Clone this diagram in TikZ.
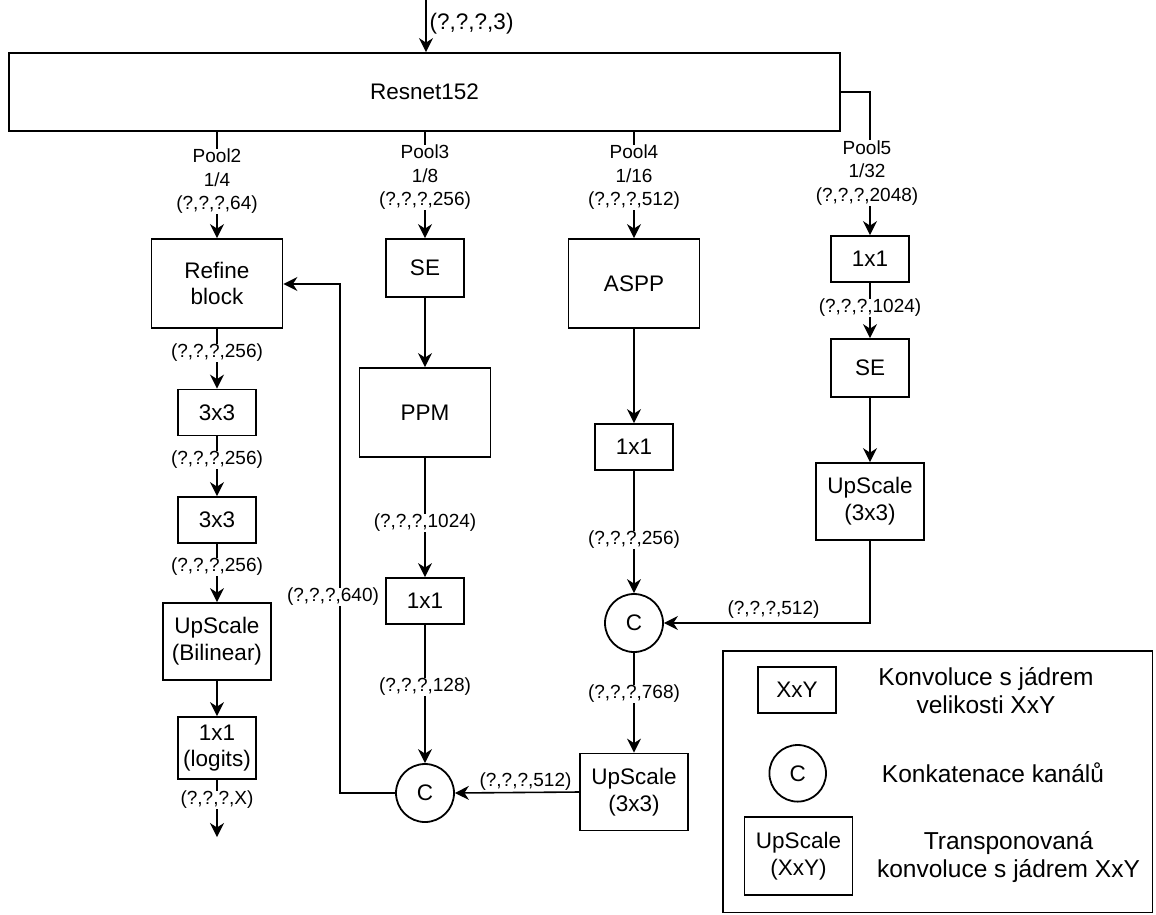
\documentclass[tikz,border=0pt]{standalone}
\usepackage{fontspec}
\setmainfont{Liberation Sans}
\usetikzlibrary{arrows.meta}

\begin{document}
\begin{tikzpicture}[x=1pt,y=-1pt,
  box/.style={draw, line width=1.8pt, fill=white, align=center, inner sep=0pt,
    font=\fontsize{22.5}{26.7}\selectfont},
  small/.style={box, minimum width=78pt, minimum height=46pt},
  sebox/.style={box, minimum width=78pt, minimum height=58pt},
  big/.style={box, minimum width=131pt, minimum height=89pt},
  upbox/.style={box, minimum width=108pt, minimum height=77pt},
  cat/.style={draw, circle, line width=1.8pt, fill=white, inner sep=0pt,
    minimum size=58pt, font=\fontsize{22.5}{26.7}\selectfont},
  lbl/.style={fill=white, inner sep=0.5pt, align=center,
    font=\fontsize{19}{23.5}\selectfont},
  legtext/.style={align=center, inner sep=0pt, font=\fontsize{24.5}{28}\selectfont},
  link/.style={line width=1.6pt},
  flow/.style={link, -{Stealth[length=14pt, width=14pt, inset=4.5pt]}}
]
\useasboundingbox (0,0) rectangle (1156,914);

% backbone
\node[box, minimum width=831pt, minimum height=78pt] (res) at (424.5,92) {Resnet152};
\coordinate (in) at (426,0);

% Pool2 branch
\node[big] (refine) at (217,283.5) {Refine\\block};
\node[small] (c3a) at (217,412.5) {3x3};
\node[small] (c3b) at (217,520) {3x3};
\node[upbox] (upbil) at (217,641.5) {UpScale\\(Bilinear)};
\node[box, minimum width=78pt, minimum height=62pt] (logits) at (217,748) {1x1\\(logits)};
\coordinate (out) at (217,837);

% Pool3 branch
\node[sebox] (se3) at (425,268) {SE};
\node[big] (ppm) at (425,412.5) {PPM};
\node[small] (c1m) at (425,601) {1x1};
\node[cat] (catL) at (425,793) {C};

% Pool4 branch
\node[big] (aspp) at (634,283.5) {ASPP};
\node[small] (c1r) at (634,447) {1x1};
\node[cat] (catR) at (634,623) {C};
\node[upbox] (up3m) at (634,792) {UpScale\\(3x3)};

% Pool5 branch
\node[small] (c1p5) at (870,259) {1x1};
\node[sebox] (se5) at (870,368) {SE};
\node[upbox] (up3r) at (870,501.5) {UpScale\\(3x3)};

% connectors
\draw[flow] (in) -- (in |- res.north);
\draw[flow] (res.south -| refine) -- (refine.north);
\draw[flow] (res.south -| se3) -- (se3.north);
\draw[flow] (res.south -| aspp) -- (aspp.north);
\draw[flow] (res.east |- 0,92) -| (c1p5.north);

\draw[flow] (refine) -- (c3a);
\draw[flow] (c3a) -- (c3b);
\draw[flow] (c3b) -- (upbil);
\draw[flow] (upbil) -- (logits);
\draw[flow] (logits) -- (out);

\draw[flow] (se3) -- (ppm);
\draw[flow] (ppm) -- (c1m);
\draw[flow] (c1m) -- (catL);
\draw[flow] (catL.west) -- (340,793) -- (340,284) -- (refine.east |- 0,284);

\draw[flow] (aspp) -- (c1r);
\draw[flow] (c1r) -- (catR);
\draw[flow] (catR) -- (up3m);
\draw[flow] (up3m.west) -- (catL.east);

\draw[flow] (c1p5) -- (se5);
\draw[flow] (se5) -- (up3r);
\draw[flow] (up3r.south) -- (870,623) -- (catR.east);

% tensor shape labels
\node[lbl, fill=none, anchor=west, font=\fontsize{22.5}{26.7}\selectfont] (lin) at (429,24) {(?,?,?,3)};
\node[lbl] (lp2) at (217,181.5) {Pool2\\1/4\\(?,?,?,64)};
\node[lbl] (lp3) at (425,177.5) {Pool3\\1/8\\(?,?,?,256)};
\node[lbl] (lp4) at (634,177.5) {Pool4\\1/16\\(?,?,?,512)};
\node[lbl] (lp5) at (867,173) {Pool5\\1/32\\(?,?,?,2048)};

\node[lbl] (l1) at (217,353) {(?,?,?,256)};
\node[lbl] (l2) at (217,460) {(?,?,?,256)};
\node[lbl] (l3) at (217,567) {(?,?,?,256)};
\node[lbl] (l4) at (217,800) {(?,?,?,X)};

\node[lbl] (l5) at (425,523) {(?,?,?,1024)};
\node[lbl] (l6) at (425,687) {(?,?,?,128)};
\node[lbl] (l7) at (333,597) {(?,?,?,640)};

\node[lbl] (l8) at (634,540) {(?,?,?,256)};
\node[lbl] (l9) at (634,694) {(?,?,?,768)};
\node[lbl] (l10) at (525.5,782) {(?,?,?,512)};

\node[lbl] (l11) at (870,308) {(?,?,?,1024)};
\node[lbl] (l12) at (773.5,610) {(?,?,?,512)};

% legend
\draw[line width=1.6pt] (722.7,650.7) rectangle (1152.5,912.5);
\node[small] (kxy) at (797,689.7) {XxY};
\node[legtext] (t1) at (986,691) {Konvoluce s jádrem\\velikosti XxY};
\node[cat, minimum size=56.6pt] (kc) at (797.7,773.3) {C};
\node[legtext] (t2) at (993,773) {Konkatenace kanálů};
\node[upbox, minimum height=78pt] (kup) at (798.5,856) {UpScale\\(XxY)};
\node[legtext] (t3) at (1008.5,857) {Transponovaná\\konvoluce s jádrem XxY};
\end{tikzpicture}
\end{document}
